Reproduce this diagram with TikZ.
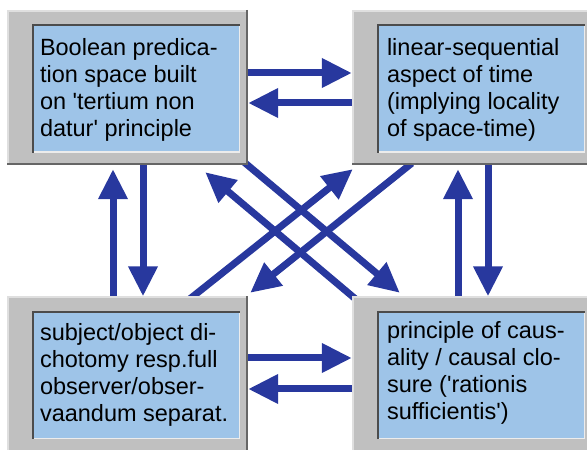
\documentclass[tikz,border=0pt]{standalone}
\usepackage{fontspec}
\setmainfont{Liberation Sans}
\usetikzlibrary{calc,arrows.meta,backgrounds}

\definecolor{framegray}{RGB}{192,192,192}
\definecolor{paneblue}{RGB}{158,196,232}
\definecolor{arrowblue}{RGB}{40,56,158}

\tikzset{
  outerbox/.style={fill=framegray,inner sep=0pt,minimum width=241pt,minimum height=155pt},
  pane/.style={fill=paneblue,inner sep=0pt,minimum width=208pt,minimum height=128pt,anchor=north west},
  txt/.style={inner sep=0pt,anchor=base west,align=left,font=\fontsize{23.5}{27}\selectfont},
  link/.style={draw=arrowblue,line width=7pt,-{Triangle[length=30pt,width=28pt]}},
}

\begin{document}
\begin{tikzpicture}[x=1pt,y=1pt]
  \useasboundingbox (0,0) rectangle (587,450);
  \clip (0,0) rectangle (587,450);

  % the four framed panes
  \foreach \n/\x/\y in {boolean/127.5/362.5,linear/472.5/362.5,subject/127.5/76,causal/472.5/76}{%
    \node[outerbox] (\n) at (\x,\y) {};
    \draw[line width=2pt,gray!25] ([shift={(1,0)}]\n.south west) -- ([shift={(1,-1)}]\n.north west) -- ([shift={(0,-1)}]\n.north east);
    \draw[line width=2pt,black!60] ([shift={(-1,0)}]\n.north east) -- ([shift={(-1,1)}]\n.south east) -- ([shift={(0,1)}]\n.south west);
    \node[pane] (\n-in) at ([shift={(25,-14.5)}]\n.north west) {};
    \draw[line width=1.5pt,white!85!gray] ([shift={(0,0.75)}]\n-in.south west) -- ([shift={(-0.75,0.75)}]\n-in.south east) -- ([shift={(-0.75,0)}]\n-in.north east);
    \draw[line width=2pt,black!70] ([shift={(1,0)}]\n-in.south west) -- ([shift={(1,-1)}]\n-in.north west) -- ([shift={(0,-1)}]\n-in.north east);
  }

  % texts, placed by the baseline of their last line
  \node[txt] (boolean-txt) at ([shift={(8,-112)}]boolean-in.north west)
    {Boolean predica-\\tion space built\\on \textquotesingle tertium non\\datur\textquotesingle\ principle};
  \node[txt] (linear-txt) at ([shift={(10,-112)}]linear-in.north west)
    {linear-sequential\\aspect of time\\(implying locality\\of space-time)};
  \node[txt] (subject-txt) at ([shift={(8,-110.5)}]subject-in.north west)
    {subject/object di-\\chotomy resp.full\\observer/obser-\\vaandum separat.};
  \node[txt] (causal-txt) at ([shift={(10,-109)}]causal-in.north west)
    {principle of caus-\\ality / causal clo-\\sure (\textquotesingle rationis\\sufficientis\textquotesingle)};

  % connectors, kept under the frames
  \begin{scope}[on background layer]
    \draw[link] ([yshift=14.5]boolean.east) -- ([yshift=14.5]linear.west);
    \draw[link] ([yshift=-15.5]linear.west) -- ([yshift=-15.5]boolean.east);
    \draw[link] ([yshift=16]subject.east) -- ([yshift=16]causal.west);
    \draw[link] ([yshift=-15]causal.west) -- ([yshift=-15]subject.east);
    \draw[link,shorten >=4pt] ([xshift=-14.5]subject.north) -- ([xshift=-14.5]boolean.south);
    \draw[link] ([xshift=15.5]boolean.south) -- ([xshift=15.5]subject.north);
    \draw[link,shorten >=4pt] ([xshift=-14.5]causal.north) -- ([xshift=-14.5]linear.south);
    \draw[link] ([xshift=15.5]linear.south) -- ([xshift=15.5]causal.north);
    \draw[link] ([shift={(10,-8)}]causal.north west) -- ([shift={(-43,-7)}]boolean.south east);
    \draw[link] ([shift={(-10,8)}]boolean.south east) -- ([shift={(48,3.5)}]causal.north west);
    \draw[link] ([shift={(-62,-5.5)}]subject.north east) -- ([shift={(1,-4)}]linear.south west);
    \draw[link] ([shift={(60,2)}]linear.south west) -- ([shift={(2,3.5)}]subject.north east);
  \end{scope}
\end{tikzpicture}
\end{document}
